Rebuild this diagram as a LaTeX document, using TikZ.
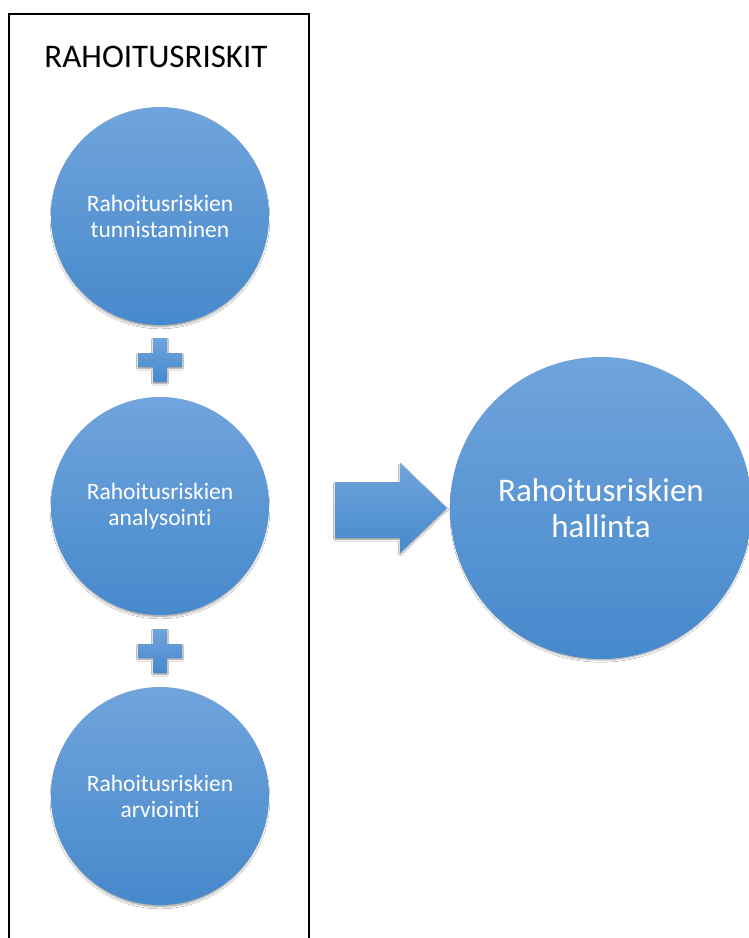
\documentclass[tikz,border=0pt]{standalone}
\usepackage{fontspec}
\setmainfont[Ligatures=NoCommon]{Carlito}
\usetikzlibrary{shadows.blur}
\definecolor{ctop}{RGB}{112,164,220}
\definecolor{cbot}{RGB}{70,137,204}
\tikzset{
  ball/.style={circle, minimum size=218pt, inner sep=0pt, top color=ctop, bottom color=cbot,
    blur shadow={shadow xshift=0pt, shadow yshift=-3pt, shadow scale=0.985, shadow blur steps=6, shadow blur radius=2.5pt, shadow opacity=45},
    text=white, align=center, font=\fontsize{23.5}{26}\selectfont},
  bigball/.style={ball, minimum size=302pt, font=\fontsize{33}{36}\selectfont},
  bluefill/.style={top color=ctop, bottom color=cbot,
    blur shadow={shadow xshift=0pt, shadow yshift=-1.5pt, shadow blur steps=4, shadow blur radius=1.5pt, shadow opacity=40}},
}
\begin{document}
\begin{tikzpicture}[x=1pt,y=-1pt]
\clip (0,0) rectangle (749,938);
\fill[white] (0,0) rectangle (749,938);
\draw[line width=2pt] (9,950) -- (9,14) -- (309,14) -- (309,950);
\node[font=\fontsize{33}{38}\selectfont, anchor=base] (title) at (156,67) {RAHOITUSRISKIT};
\node[ball] (c1) at (160,216) {Rahoitusriskien\\tunnistaminen};
\node[ball] (c2) at (160,506) {Rahoitusriskien\\analysointi};
\node[ball] (c3) at (160,796) {Rahoitusriskien\\arviointi};
\node[bigball] (c4) at (601,508) {Rahoitusriskien\\hallinta};
% plus signs
\foreach \y/\n in {360/p1, 651/p2} {
  \coordinate (\n) at (160,\y);
  \path[bluefill] (153,\y-22) -- (167,\y-22) -- (167,\y-7) -- (182,\y-7) -- (182,\y+7) -- (167,\y+7)
     -- (167,\y+22) -- (153,\y+22) -- (153,\y+7) -- (138,\y+7) -- (138,\y-7) -- (153,\y-7) -- cycle;
}
% arrow
\path[bluefill] (335,482) -- (400,482) -- (400,463) -- (447,508) -- (400,553) -- (400,538) -- (335,538) -- cycle;
\end{tikzpicture}
\end{document}
